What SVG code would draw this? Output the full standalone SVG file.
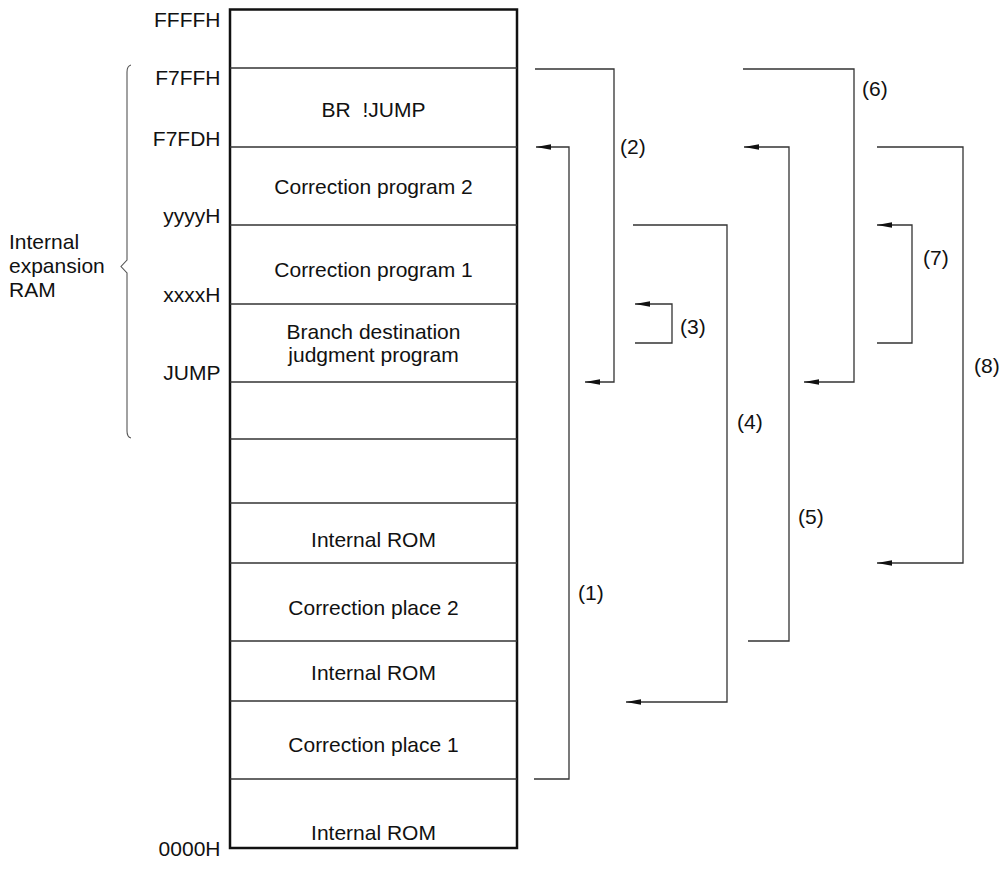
<svg xmlns="http://www.w3.org/2000/svg" width="1001" height="880" viewBox="0 0 1001 880">
<style>
text{font-family:"Liberation Sans",Arial,sans-serif;font-size:21px;fill:#111}
.c{text-anchor:middle}
.r{text-anchor:end}
.div{stroke:#333;stroke-width:1.5}
.conn{fill:none;stroke:#333;stroke-width:1.3}
</style>
<defs>
<marker id="arr" viewBox="0 0 15 5.5" refX="15" refY="2.75" markerWidth="15" markerHeight="5.5" markerUnits="userSpaceOnUse" orient="auto">
<path d="M0,0 L15,2.75 L0,5.5 z" fill="#111"/>
</marker>
</defs>
<rect width="1001" height="880" fill="#fff"/>

<g id="memory-map">
<rect x="230" y="9.5" width="287" height="838.5" fill="none" stroke="#111" stroke-width="2.5"/>
<line class="div" x1="230" y1="68" x2="517" y2="68"/>
<line class="div" x1="230" y1="147" x2="517" y2="147"/>
<line class="div" x1="230" y1="225" x2="517" y2="225"/>
<line class="div" x1="230" y1="304" x2="517" y2="304"/>
<line class="div" x1="230" y1="382" x2="517" y2="382"/>
<line class="div" x1="230" y1="439" x2="517" y2="439"/>
<line class="div" x1="230" y1="503" x2="517" y2="503"/>
<line class="div" x1="230" y1="563" x2="517" y2="563"/>
<line class="div" x1="230" y1="641" x2="517" y2="641"/>
<line class="div" x1="230" y1="701" x2="517" y2="701"/>
<line class="div" x1="230" y1="779" x2="517" y2="779"/>
</g>

<g id="seg-br"><text class="c" x="373.5" y="116.5" xml:space="preserve">BR  !JUMP</text></g>
<g id="seg-cp2"><text class="c" x="373.5" y="193.5">Correction program 2</text></g>
<g id="seg-cp1"><text class="c" x="373.5" y="277">Correction program 1</text></g>
<g id="seg-bdj"><text class="c" x="373.5" y="338.5">Branch destination</text><text class="c" x="373.5" y="362">judgment program</text></g>
<g id="seg-rom3"><text class="c" x="373.5" y="547">Internal ROM</text></g>
<g id="seg-place2"><text class="c" x="373.5" y="615">Correction place 2</text></g>
<g id="seg-rom2"><text class="c" x="373.5" y="680">Internal ROM</text></g>
<g id="seg-place1"><text class="c" x="373.5" y="751.5">Correction place 1</text></g>
<g id="seg-rom1"><text class="c" x="373.5" y="840">Internal ROM</text></g>

<g id="addresses">
<text class="r" x="220.5" y="26.5">FFFFH</text>
<text class="r" x="220.5" y="85">F7FFH</text>
<text class="r" x="220.5" y="146">F7FDH</text>
<text class="r" x="220.5" y="222.5">yyyyH</text>
<text class="r" x="220.5" y="302">xxxxH</text>
<text class="r" x="220.5" y="379.5">JUMP</text>
<text class="r" x="220.5" y="856">0000H</text>
</g>

<g id="ram-brace">
<path d="M131,65 Q127,66 127,72 L127,260 L121,266.5 L127,273 L127,431 Q127,437 131,438" fill="none" stroke="#555" stroke-width="1.1"/>
<text x="9" y="248.5">Internal</text>
<text x="9" y="272.5">expansion</text>
<text x="9" y="297">RAM</text>
</g>

<g id="connectors">
<polyline class="conn" points="534,779 569,779 569,147 536,147" marker-end="url(#arr)"/>
<polyline class="conn" points="535,69 614,69 614,382 585,382" marker-end="url(#arr)"/>
<polyline class="conn" points="635,343 672,343 672,304 635,304" marker-end="url(#arr)"/>
<polyline class="conn" points="633,225 727,225 727,702 626,702" marker-end="url(#arr)"/>
<polyline class="conn" points="748,641 789,641 789,147 744,147" marker-end="url(#arr)"/>
<polyline class="conn" points="743,69 854,69 854,382 804,382" marker-end="url(#arr)"/>
<polyline class="conn" points="877,343 912,343 912,225 877,225" marker-end="url(#arr)"/>
<polyline class="conn" points="877,147 963,147 963,563 877,563" marker-end="url(#arr)"/>
</g>

<g id="labels">
<text x="578" y="600">(1)</text>
<text x="620" y="154">(2)</text>
<text x="680" y="334">(3)</text>
<text x="737" y="429">(4)</text>
<text x="798" y="524">(5)</text>
<text x="862" y="96">(6)</text>
<text x="923" y="265">(7)</text>
<text x="974" y="373">(8)</text>
</g>
</svg>
